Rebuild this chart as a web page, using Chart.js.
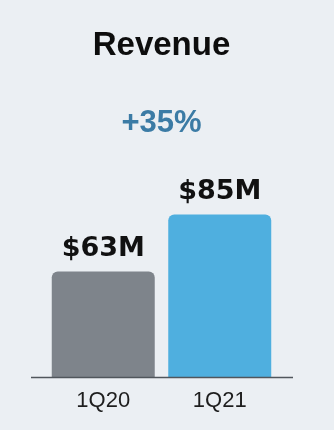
<!DOCTYPE html>
<html>
<head>
<meta charset="utf-8">
<script src="https://cdn.jsdelivr.net/npm/chart.js@4"></script>
<style>
html,body{margin:0;padding:0;background:#ebeff3;}
#wrap{width:334px;height:430px;position:relative;}
</style>
</head>
<body>
<div id="wrap"><canvas id="c" width="334" height="430"></canvas></div>
<script>
const categories = ["1Q20", "1Q21"];
const revenue = [63, 85];
const valueLabels = ["$63M", "$85M"];
const titleText = "Revenue";
const growthText = "+35%";
const barColors = ["#7e848b", "#4fafdf"];

const valueLabelPlugin = {
  id: 'valueLabels',
  afterDatasetsDraw(chart) {
    const ctx = chart.ctx;
    const meta = chart.getDatasetMeta(0);
    ctx.save();
    ctx.font = 'bold 27px "DejaVu Sans"';
    ctx.fillStyle = '#111111';
    ctx.textAlign = 'center';
    ctx.textBaseline = 'alphabetic';
    meta.data.forEach((bar, i) => {
      ctx.fillText(valueLabels[i], bar.x, bar.y - 15);
    });
    // baseline
    const y = chart.scales.y.getPixelForValue(chart.scales.y.min);
    ctx.strokeStyle = '#50565c';
    ctx.lineWidth = 1.5;
    ctx.beginPath();
    ctx.moveTo(chart.chartArea.left - 14, y);
    ctx.lineTo(chart.chartArea.right + 15, y);
    ctx.stroke();
    ctx.restore();
  }
};

new Chart(document.getElementById('c'), {
  type: 'bar',
  data: {
    labels: categories,
    datasets: [{
      data: revenue,
      backgroundColor: barColors,
      borderRadius: {topLeft: 6, topRight: 6, bottomLeft: 0, bottomRight: 0},
      borderSkipped: 'bottom',
      barPercentage: 0.884,
      categoryPercentage: 1.0
    }]
  },
  options: {
    responsive: false,
    animation: false,
    devicePixelRatio: 1,
    layout: { padding: { left: 45, right: 56, top: 0, bottom: 6 } },
    plugins: {
      legend: { display: false },
      tooltip: { enabled: false },
      title: {
        display: true,
        text: titleText,
        color: '#0d0d0d',
        font: { family: '"Liberation Sans", Arial, sans-serif', size: 33, weight: 'bold', lineHeight: 1.2 },
        padding: { top: 26, bottom: 39 }
      },
      subtitle: {
        display: true,
        text: growthText,
        color: '#3b7ba5',
        font: { family: '"Liberation Sans", Arial, sans-serif', size: 31, weight: 'bold', lineHeight: 1.2 },
        padding: { top: 0, bottom: 9 }
      }
    },
    scales: {
      x: {
        grid: { display: false, drawTicks: false },
        border: { display: false },
        ticks: {
          color: '#1e1e1e',
          padding: 10,
          font: { family: '"Liberation Sans", Arial, sans-serif', size: 22 }
        }
      },
      y: {
        display: false,
        min: 22,
        max: 109.6
      }
    }
  },
  plugins: [valueLabelPlugin]
});
</script>
</body>
</html>
